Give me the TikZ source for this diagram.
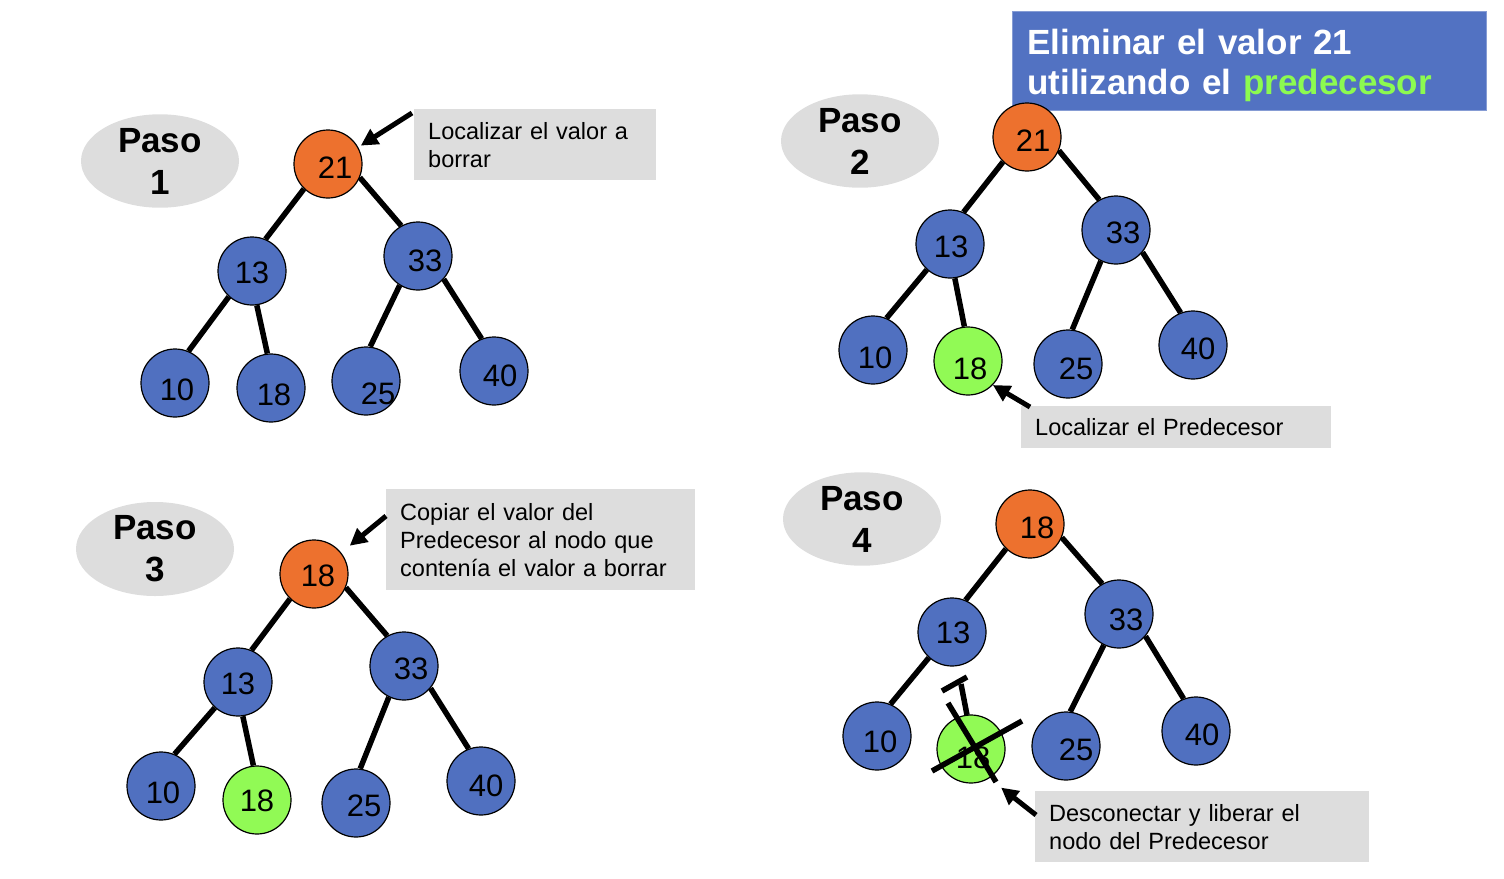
\documentclass[tikz,border=0pt]{standalone}
\usepackage{fontspec}
\setmainfont{Liberation Sans}
\usetikzlibrary{arrows.meta,shapes.geometric}
\definecolor{nblue}{RGB}{80,112,192}
\definecolor{norange}{RGB}{237,113,46}
\definecolor{ngreen}{RGB}{145,250,85}
\definecolor{pgray}{RGB}{221,221,221}
\definecolor{tblue}{RGB}{82,114,194}
\definecolor{tgreen}{RGB}{140,250,80}
% #1 = horizontal text offset, #2 = downward text offset, #3 = value
\newcommand\nv[3]{\makebox[0pt]{\hspace*{\dimexpr#1*2\relax}\raisebox{\dimexpr-11pt-#2\relax}{#3}}}
\begin{document}
\begin{tikzpicture}[x=1pt,y=-1pt,
 tn/.style={circle,draw=black,line width=1.2pt,minimum size=68pt,inner sep=0pt,font=\fontsize{31}{31}\selectfont,text height=0pt,text depth=0pt,text width=0pt},
 bn/.style={tn,fill=nblue}, on/.style={tn,fill=norange}, gn/.style={tn,fill=ngreen},
 ed/.style={line width=5.5pt},
 arr/.style={line width=5pt,-{Triangle[length=17pt,width=17pt]}},
 paso/.style={ellipse,fill=pgray,minimum width=158pt,minimum height=93pt,inner sep=0pt,align=center,font=\bfseries\fontsize{35}{42}\selectfont},
 lbl/.style={fill=pgray,anchor=north west,inner xsep=14pt,inner ysep=0pt,align=left,font=\fontsize{23.5}{28}\selectfont}]
\useasboundingbox (0,0) rectangle (1504,878);

% title
\node[fill=tblue,draw=tblue!70!white,line width=0.8pt,anchor=north west,minimum width=474pt,minimum height=99pt,inner xsep=15pt,inner ysep=0pt,text width=444pt,align=left,text=white,font=\bfseries\fontsize{35}{40}\selectfont] (title) at (1012,11) {\rule{0pt}{34pt}Eliminar el valor 21\\utilizando el \textcolor{tgreen}{predecesor}};

% ---------- Paso 1
\node[paso] (p1) at (160,161) {Paso\\1};
\node[on] (a21) at (328,164) {\nv{7pt}{3pt}{21}};
\node[bn] (a13) at (252,271) {\nv{0pt}{1pt}{13}};
\node[bn] (a33) at (418,256) {\nv{7pt}{4pt}{33}};
\node[bn] (a10) at (175,383) {\nv{2pt}{6pt}{10}};
\node[bn] (a18) at (271,388) {\nv{3pt}{6pt}{18}};
\node[bn] (a25) at (366,381) {\nv{12pt}{12pt}{25}};
\node[bn] (a40) at (494,371) {\nv{6pt}{4pt}{40}};
\draw[ed] (a21.-134) -- (a13.67);
\draw[ed] (a21.-23) -- (a33.119);
\draw[ed] (a13.-132) -- (a10.67);
\draw[ed] (a13.-82) -- (a18.96);
\draw[ed] (a33.-122) -- (a25.83);
\draw[ed] (a33.-42) -- (a40.111);
\node[lbl,minimum width=242pt,minimum height=71pt,text width=214pt] (l1) at (414,109) {Localizar el valor a\\borrar};
\coordinate (t1) at (412,113);
\draw[arr,shorten >=3pt] (t1) -- (a21.29);

% ---------- Paso 2
\node[paso] (p2) at (860,141) {Paso\\2};
\node[on] (b21) at (1027,137) {\nv{6pt}{3pt}{21}};
\node[bn] (b13) at (950,244) {\nv{1pt}{2pt}{13}};
\node[bn] (b33) at (1116,230) {\nv{7pt}{2pt}{33}};
\node[bn] (b10) at (873,350) {\nv{2pt}{7pt}{10}};
\node[gn] (b18) at (968,361) {\nv{2pt}{7pt}{18}};
\node[bn] (b25) at (1068,364) {\nv{8pt}{4pt}{25}};
\node[bn] (b40) at (1193,345) {\nv{5pt}{3pt}{40}};
\draw[ed] (b21.-134) -- (b13.67);
\draw[ed] (b21.-23) -- (b33.119);
\draw[ed] (b13.-132) -- (b10.67);
\draw[ed] (b13.-82) -- (b18.96);
\draw[ed] (b33.-116) -- (b25.83);
\draw[ed] (b33.-40) -- (b40.111);
\node[lbl,minimum width=310pt,minimum height=42pt,text width=282pt] (l2) at (1021,406) {\raisebox{-2pt}{Localizar el Predecesor}};
\coordinate (t2) at (1030,407);
\draw[arr] (t2) -- (b18.-44);

% ---------- Paso 3
\node[paso] (p3) at (155,549) {Paso\\3};
\node[on] (c18r) at (314,574) {\nv{4pt}{1pt}{18}};
\node[bn] (c13) at (238,682) {\nv{0pt}{1pt}{13}};
\node[bn] (c33) at (404,666) {\nv{7pt}{2pt}{33}};
\node[bn] (c10) at (161,786) {\nv{2pt}{6pt}{10}};
\node[gn] (c18) at (257,800) {\nv{0pt}{0pt}{18}};
\node[bn] (c25) at (356,803) {\nv{8pt}{2pt}{25}};
\node[bn] (c40) at (481,781) {\nv{5pt}{4pt}{40}};
\draw[ed] (c18r.-134) -- (c13.67);
\draw[ed] (c18r.-23) -- (c33.119);
\draw[ed] (c13.-132) -- (c10.67);
\draw[ed] (c13.-82) -- (c18.96);
\draw[ed] (c33.-116) -- (c25.83);
\draw[ed] (c33.-40) -- (c40.111);
\node[lbl,minimum width=309pt,minimum height=101pt,text width=281pt] (l3) at (386,489) {Copiar el valor del\\Predecesor al nodo que\\contenía el valor a borrar};
\coordinate (t3) at (386,516);
\draw[arr,shorten >=11pt] (t3) -- (c18r.38);

% ---------- Paso 4
\node[paso] (p4) at (862,519) {Paso\\4};
\node[on] (d18r) at (1030,524) {\nv{7pt}{3pt}{18}};
\node[bn] (d13) at (952,632) {\nv{1pt}{0pt}{13}};
\node[bn] (d33) at (1119,614) {\nv{7pt}{5pt}{33}};
\node[bn] (d10) at (877,736) {\nv{3pt}{5pt}{10}};
\node[gn] (d18) at (971,749) {\nv{2pt}{8pt}{18}};
\node[bn] (d25) at (1066,746) {\nv{10pt}{3pt}{25}};
\node[bn] (d40) at (1196,731) {\nv{6pt}{3pt}{40}};
\draw[ed] (d18r.-134) -- (d13.67);
\draw[ed] (d18r.-23) -- (d33.119);
\draw[ed] (d13.-132) -- (d10.67);
\draw[ed] (d33.-116) -- (d25.83);
\draw[ed] (d33.-40) -- (d40.111);
% broken link and cross
\draw[ed] (942,691) -- (967,677);
\draw[ed] (961,684) -- (967,715);
\draw[ed] (948,703) -- (996,782);
\draw[ed] (932,771) -- (1022,721);
\node[lbl,minimum width=334pt,minimum height=71pt,text width=306pt] (l4) at (1035,791) {Desconectar y liberar el\\nodo del Predecesor};
\coordinate (t4) at (1036,815);
\draw[arr,shorten >=15pt] (t4) -- (d18.-58);
\end{tikzpicture}
\end{document}
